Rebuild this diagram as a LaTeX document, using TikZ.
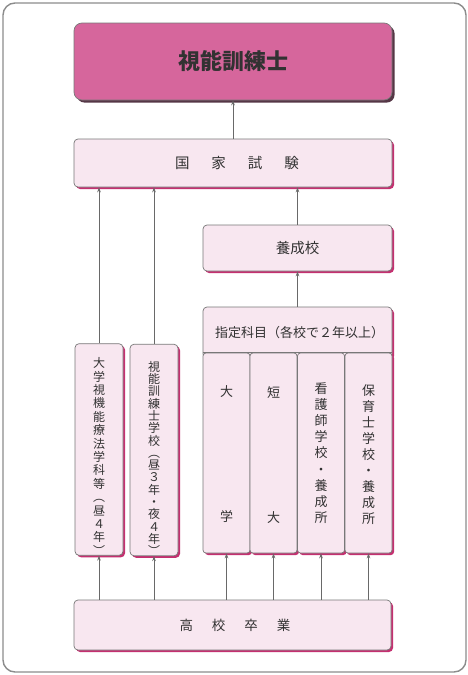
\documentclass[tikz,border=0pt]{standalone}
\usepackage{fontspec}
\setmainfont{Noto Sans CJK JP}
\usetikzlibrary{shadows,arrows.meta}
\definecolor{pinkfill}{RGB}{248,231,240}
\definecolor{hotpink}{RGB}{214,102,156}
\definecolor{magshadow}{RGB}{196,48,112}
\definecolor{darkshadow}{RGB}{85,55,70}
\definecolor{boxline}{RGB}{120,120,120}
\definecolor{arrgray}{RGB}{105,105,105}
\definecolor{txt}{RGB}{50,50,50}
\definecolor{framegray}{RGB}{140,140,140}
\begin{document}
\begin{tikzpicture}[x=1pt,y=-1pt,
  pinkbox/.style={draw=boxline, line width=0.7pt, fill=pinkfill, rounded corners=4pt,
    text=txt, inner sep=0pt, align=center,
    drop shadow={shadow xshift=2pt, shadow yshift=-2pt, fill=magshadow, opacity=1}},
  topbox/.style={draw=boxline, line width=0.7pt, fill=hotpink, rounded corners=8pt,
    text=txt, inner sep=0pt,
    drop shadow={shadow xshift=2.6pt, shadow yshift=-2.6pt, fill=darkshadow, opacity=1}},
  colbox/.style={pinkbox, rounded corners=3pt, minimum width=47pt, minimum height=200pt},
  arr/.style={draw=arrgray, line width=0.8pt, -{Stealth[length=5pt,width=3.6pt]}},
  vfont/.style={font=\fontsize{12}{#1}\selectfont}
]
\useasboundingbox (0,0) rectangle (468,675);
\draw[framegray, line width=1.4pt, fill=white, rounded corners=12pt] (3,3) rectangle (466,672);

% top
\node[topbox, minimum width=318pt, minimum height=77pt, font=\fontsize{22}{24}\selectfont\bfseries]
  (shinou) at (233,61.5) {視能訓練士};
\node[pinkbox, minimum width=318pt, minimum height=48pt, font=\fontsize{14.5}{16}\selectfont]
  (kokka) at (233,163) {\hspace{8pt}国\hspace{22pt}家\hspace{22pt}試\hspace{22pt}験};
\node[pinkbox, minimum width=189pt, minimum height=46pt, font=\fontsize{14.5}{16}\selectfont]
  (yosei) at (297.5,248) {養成校};
\node[pinkbox, minimum width=189pt, minimum height=51pt, font=\fontsize{13}{15}\selectfont]
  (shitei) at (297.5,332.5) {\hspace{4pt}指定科目（各校で２年以上）};

% columns
\node[colbox, font=\fontsize{13}{15}\selectfont] (c1) at (226.5,453) {\rule{0pt}{14pt}大\\[110pt]学};
\node[colbox, font=\fontsize{13}{15}\selectfont] (c2) at (273.5,453) {\rule{0pt}{14pt}短\\[110pt]大};
\node[colbox, font=\fontsize{13}{16.2}\selectfont] (c3) at (321,453) {看\\護\\師\\学\\校\\・\\養\\成\\所};
\node[colbox, font=\fontsize{13}{16}\selectfont] (c4) at (368.5,453) {\rule{0pt}{14pt}保\\育\\士\\学\\校\\・\\養\\成\\所};
\draw[boxline, line width=0.7pt] (c1.north west) -- (c4.north east);

% left boxes
\node[pinkbox, minimum width=48pt, minimum height=203pt, vfont=13.4] (b1) at (99,449.5)
  {\rule{0pt}{24pt}大\\学\\視\\機\\能\\療\\法\\学\\科\\等\\︵\\昼\\４\\年\\︶};
\node[pinkbox, minimum width=48pt, minimum height=204pt, vfont=12.3] (b2) at (154,450)
  {\rule{0pt}{27pt}視\\能\\訓\\練\\士\\学\\校\\︵\\昼\\３\\年\\・\\夜\\４\\年\\︶};

% bottom
\node[pinkbox, minimum width=317pt, minimum height=50pt, font=\fontsize{13.5}{15}\selectfont]
  (kokou) at (232.5,625) {\hspace{5pt}高\hspace{19pt}校\hspace{19pt}卒\hspace{19pt}業};

% arrows
\draw[arr] (kokka.north) -- (shinou.south);
\draw[arr] (b1.north) -- (b1.north |- kokka.south);
\draw[arr] (b2.north) -- (b2.north |- kokka.south);
\draw[arr] (yosei.north) -- (yosei.north |- kokka.south);
\draw[arr] (shitei.north) -- (yosei.south);
\foreach \n in {b1,b2,c1,c2,c3,c4}
  \draw[arr] (kokou.north -| \n.south) -- (\n.south);
\end{tikzpicture}
\end{document}
